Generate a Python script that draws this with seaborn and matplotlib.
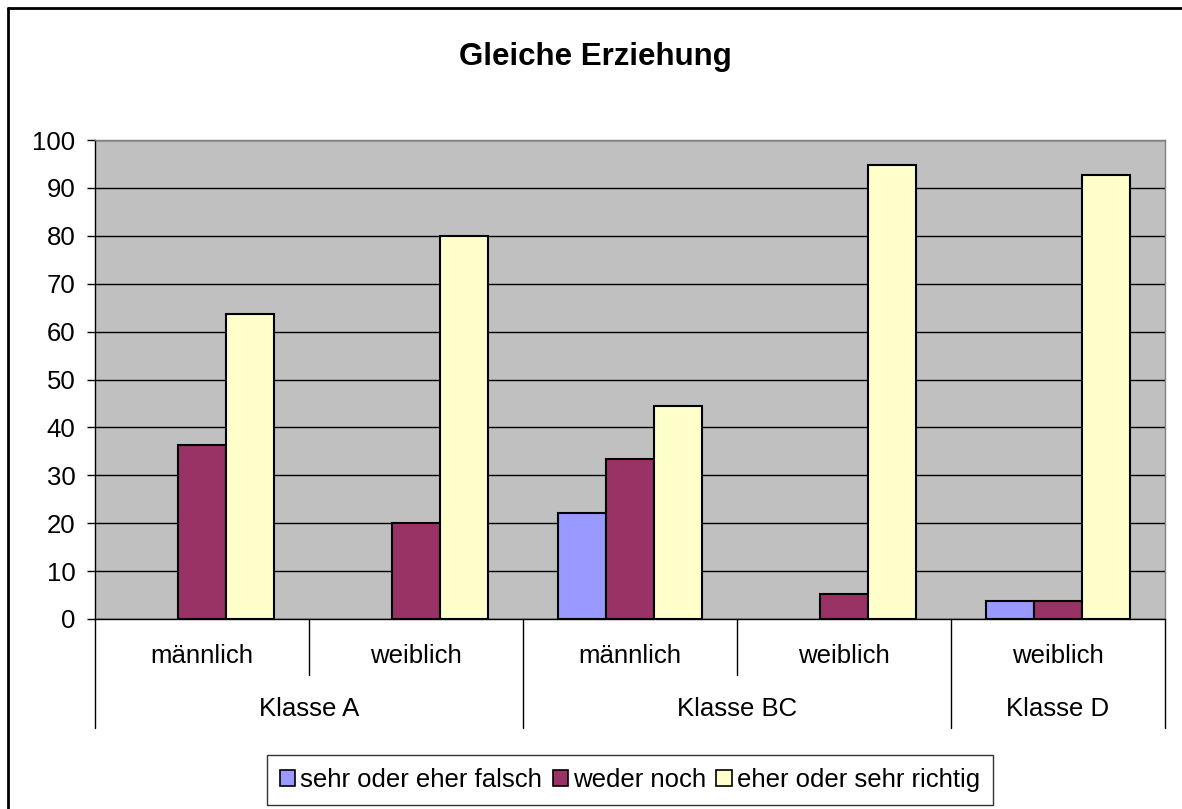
import numpy as np
import pandas as pd
import matplotlib
matplotlib.use("Agg")
import matplotlib.pyplot as plt
import seaborn as sns
from matplotlib.lines import Line2D

# data
categories = ["A_m", "A_w", "BC_m", "BC_w", "D_w"]
sub_labels = ["männlich", "weiblich", "männlich", "weiblich", "weiblich"]
group_labels = ["Klasse A", "Klasse BC", "Klasse D"]
group_spans = [(0, 2), (2, 4), (4, 5)]
series = ["sehr oder eher falsch", "weder noch", "eher oder sehr richtig"]
falsch = [0, 0, 22.2, 0, 3.7]
weder = [36.4, 20.0, 33.3, 5.3, 3.7]
richtig = [63.6, 80.0, 44.4, 94.7, 92.6]
colors = ["#9999FF", "#993366", "#FFFFCC"]

df = pd.DataFrame({
    "cat": categories * 3,
    "serie": np.repeat(series, len(categories)),
    "wert": falsch + weder + richtig,
})

sns.set_style("white")
plt.rcParams["font.family"] = ["Liberation Sans", "DejaVu Sans"]
plt.rcParams["text.color"] = "black"
plt.rcParams["ytick.color"] = "black"

FS = 18.5
W, H = 1182, 809
fig = plt.figure(figsize=(W / 100, H / 100), dpi=100)
L, R, T, B = 95, 1165, 140, 619
ax = fig.add_axes([L / W, 1 - B / H, (R - L) / W, (B - T) / H])

sns.barplot(data=df, x="cat", y="wert", hue="serie", hue_order=series,
            palette=colors, width=0.67, edgecolor="black", linewidth=1.5,
            saturation=1, legend=False, ax=ax)
# empty bars are not drawn in the original
for p in ax.patches:
    if p.get_height() == 0:
        p.set_visible(False)

ax.set_facecolor("#C0C0C0")
ax.set_xlim(-0.5, len(categories) - 0.5)
ax.set_ylim(0, 100)
ax.set_yticks(range(0, 101, 10))
ax.yaxis.grid(True, color="black", linewidth=1)
ax.set_axisbelow(True)
ax.tick_params(axis="y", labelsize=FS, labelcolor="black", length=6, width=1,
               direction="out", left=True, pad=8)
ax.set_xticks([])
ax.set_xlabel("")
ax.set_ylabel("")
for s in ["top", "right"]:
    ax.spines[s].set_color("#808080")
    ax.spines[s].set_linewidth(1)
for s in ["left", "bottom"]:
    ax.spines[s].set_color("black")
    ax.spines[s].set_linewidth(1)

# hierarchical category axis below the plot
trans = ax.get_xaxis_transform()
y1 = -(675 - B) / (B - T)
y2 = -(728 - B) / (B - T)
for i, lab in enumerate(sub_labels):
    ax.text(i, -(656 - B) / (B - T), lab, transform=trans, ha="center", va="center",
            fontsize=FS)
for x in [0.5, 2.5]:
    ax.add_line(Line2D([x, x], [0, y1], transform=trans, color="black", lw=1, clip_on=False))
for x in [-0.5, 1.5, 3.5, 4.5]:
    ax.add_line(Line2D([x, x], [0, y2], transform=trans, color="black", lw=1, clip_on=False))
for lab, (a, b) in zip(group_labels, group_spans):
    ax.text((a + b - 1) / 2, -(709 - B) / (B - T), lab, transform=trans, ha="center",
            va="center", fontsize=FS)

fig.text(595 / W, 1 - 57 / H, "Gleiche Erziehung", ha="center", va="center",
         fontsize=22.5, fontweight="bold")

handles = [plt.Rectangle((0, 0), 1, 1, facecolor=c, edgecolor="black", lw=1.2) for c in colors]
leg = fig.legend(handles, series, ncol=3, loc="center", bbox_to_anchor=(630 / W, 1 - 780 / H),
                 fontsize=FS, frameon=True, fancybox=False, edgecolor="black",
                 handlelength=0.6, handleheight=0.6, handletextpad=0.2, columnspacing=0.4,
                 borderpad=0.5, borderaxespad=0)
leg.get_frame().set_linewidth(1)

# outer chart border (left and top visible)
fig.add_artist(Line2D([8 / W, 8 / W], [0, 1 - 8 / H], transform=fig.transFigure, color="black", lw=2))
fig.add_artist(Line2D([8 / W, 1], [1 - 8 / H, 1 - 8 / H], transform=fig.transFigure, color="black", lw=2))

fig.savefig("out.png", dpi=100, facecolor="white")
